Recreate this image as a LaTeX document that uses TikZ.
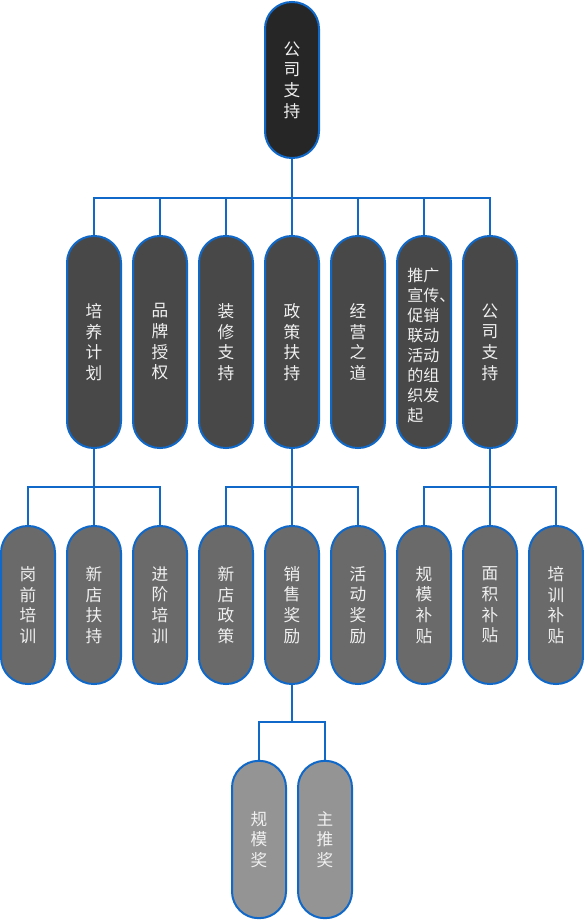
\documentclass[tikz,border=0pt]{standalone}
\usepackage{fontspec}
\setmainfont{Noto Sans CJK SC}
\definecolor{edgeblue}{RGB}{16,104,200}
\definecolor{c1}{RGB}{38,38,38}
\definecolor{c2}{RGB}{72,72,72}
\definecolor{c3}{RGB}{106,106,106}
\definecolor{c4}{RGB}{148,148,148}
\definecolor{txt}{RGB}{240,240,240}
\tikzset{
  pill/.style={draw=edgeblue, line width=1.5pt, rounded corners=20pt, minimum width=40.5pt, inner sep=0pt,
    text=txt, align=center, font=\fontsize{12.5}{15.5}\selectfont},
  lvA/.style={pill, fill=c1, minimum height=117pt},
  lvB/.style={pill, fill=c2, minimum height=159pt},
  lvC/.style={pill, fill=c3, minimum height=118.5pt},
  lvD/.style={pill, fill=c4, minimum height=118pt},
  link/.style={draw=edgeblue, line width=1.5pt},
}
\begin{document}
\begin{tikzpicture}[x=0.75pt,y=-0.75pt]
\useasboundingbox (0,0) rectangle (584,920);
% root
\node[lvA] (root) at (292,80) {公\\司\\支\\持};
% level 2
\node[lvB] (b1) at (94,342) {培\\养\\计\\划};
\node[lvB] (b2) at (160,342) {品\\牌\\授\\权};
\node[lvB] (b3) at (226,342) {装\\修\\支\\持};
\node[lvB] (b4) at (292,342) {政\\策\\扶\\持};
\node[lvB] (b5) at (358,342) {经\\营\\之\\道};
\node[lvB] (b6) at (424,342) {};
\node[anchor=west, inner sep=0pt, text=txt, align=left, font=\fontsize{12}{15}\selectfont] (b6t) at (407,345) {推广\\宣传、\\促销\\联动\\活动\\的组\\织发\\起};
\node[lvB] (b7) at (490,342) {公\\司\\支\\持};
% level 3
\node[lvC] (c1n) at (28,605) {岗\\前\\培\\训};
\node[lvC] (c2n) at (94,605) {新\\店\\扶\\持};
\node[lvC] (c3n) at (160,605) {进\\阶\\培\\训};
\node[lvC] (c4n) at (226,605) {新\\店\\政\\策};
\node[lvC] (c5n) at (292,605) {销\\售\\奖\\励};
\node[lvC] (c6n) at (358,605) {活\\动\\奖\\励};
\node[lvC] (c7n) at (424,605) {规\\模\\补\\贴};
\node[lvC] (c8n) at (490,605) {面\\积\\补\\贴};
\node[lvC] (c9n) at (556,605) {培\\训\\补\\贴};
% level 4
\node[lvD] (d1) at (259,839.5) {规\\模\\奖};
\node[lvD] (d2) at (325,839.5) {主\\推\\奖};
% buses
\coordinate (j0) at (292,198);
\coordinate (j1) at (94,487);
\coordinate (j2) at (292,487);
\coordinate (j3) at (490,487);
\coordinate (j4) at (292,722);
\foreach \n in {b1,b2,b3,b4,b5,b6,b7} \draw[link] (root.south) -- (j0) -| (\n.north);
\foreach \n in {c1n,c2n,c3n} \draw[link] (b1.south) -- (j1) -| (\n.north);
\foreach \n in {c4n,c5n,c6n} \draw[link] (b4.south) -- (j2) -| (\n.north);
\foreach \n in {c7n,c8n,c9n} \draw[link] (b7.south) -- (j3) -| (\n.north);
\foreach \n in {d1,d2} \draw[link] (c5n.south) -- (j4) -| (\n.north);
\end{tikzpicture}
\end{document}
